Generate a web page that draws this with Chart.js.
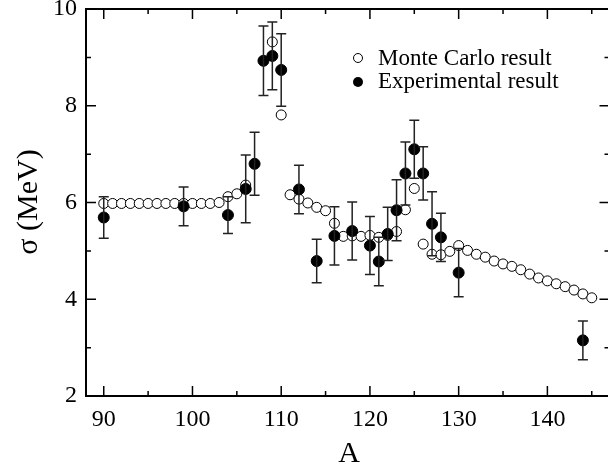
<!DOCTYPE html>
<html>
<head>
<meta charset="utf-8">
<script src="https://cdn.jsdelivr.net/npm/chart.js@4/dist/chart.umd.min.js"></script>
<style>
html,body{margin:0;padding:0;background:#fff;overflow:hidden;width:608px;height:467px;}
canvas{display:block;}
</style>
</head>
<body>
<canvas id="c" width="616" height="467"></canvas>
<script>
// Monte Carlo result (open circles)
const mcA = [90,91,92,93,94,95,96,97,98,99,100,101,102,103,104,105,106,109,110,111,112,113,114,115,116,117,118,119,120,121,122,123,124,125,126,127,128,129,130,131,132,133,134,135,136,137,138,139,140,141,142,143,144,145];
const mcSigma = [5.98,5.98,5.98,5.98,5.98,5.98,5.98,5.98,5.98,5.98,5.98,5.98,5.98,6.00,6.12,6.18,6.36,9.32,7.81,6.16,6.07,5.99,5.90,5.83,5.57,5.30,5.31,5.30,5.32,5.28,5.32,5.40,5.85,6.29,5.14,4.93,4.92,4.99,5.11,5.01,4.93,4.87,4.79,4.73,4.68,4.61,4.52,4.44,4.38,4.32,4.26,4.19,4.11,4.03];
// Experimental result (filled circles with error bars)
const expA = [90,99,104,106,107,108,109,110,112,114,116,118,120,121,122,123,124,125,126,127,128,130,144];
const expSigma = [5.69,5.92,5.74,6.28,6.80,8.93,9.03,8.74,6.27,4.79,5.31,5.41,5.11,4.78,5.35,5.84,6.60,7.10,6.60,5.56,5.28,4.55,3.15];
const expErr = [0.43,0.40,0.38,0.70,0.65,0.72,0.70,0.75,0.50,0.45,0.60,0.60,0.60,0.50,0.55,0.63,0.65,0.60,0.55,0.66,0.50,0.50,0.40];
// ticks
const xMajor = [90,100,110,120,130,140];
const xMinor = [95,105,115,125,135,145];
const yMajor = [2,4,6,8,10];
const yMinor = [3,5,7,9];
const xTitle = 'A';
const yTitle = 'σ (MeV)';
const legendLabels = ['Monte Carlo result','Experimental result'];

const SERIF = "'Liberation Serif','DejaVu Serif',serif";

const decor = {
  id: 'decor',
  afterDatasetsDraw(chart) {
    const ctx = chart.ctx, xs = chart.scales.x, ys = chart.scales.y;
    ctx.save();
    ctx.strokeStyle = '#222';
    ctx.lineWidth = 1.5;
    for (let i = 0; i < expA.length; i++) {
      const x = xs.getPixelForValue(expA[i]);
      const yt = ys.getPixelForValue(expSigma[i] + expErr[i]);
      const yb = ys.getPixelForValue(expSigma[i] - expErr[i]);
      ctx.beginPath();
      ctx.moveTo(x, yt); ctx.lineTo(x, yb);
      ctx.moveTo(x - 5, yt); ctx.lineTo(x + 5, yt);
      ctx.moveTo(x - 5, yb); ctx.lineTo(x + 5, yb);
      ctx.stroke();
    }
    ctx.restore();
  },
  afterDraw(chart) {
    const ctx = chart.ctx, xs = chart.scales.x, ys = chart.scales.y;
    const a = chart.chartArea;
    ctx.save();
    ctx.strokeStyle = '#000';
    ctx.lineWidth = 2;
    ctx.strokeRect(a.left, a.top, a.right - a.left, a.bottom - a.top);
    ctx.lineWidth = 1.5;
    ctx.beginPath();
    const tx = (v, len) => {
      const x = xs.getPixelForValue(v);
      ctx.moveTo(x, a.bottom); ctx.lineTo(x, a.bottom - len);
      ctx.moveTo(x, a.top); ctx.lineTo(x, a.top + len);
    };
    const ty = (v, len) => {
      const y = ys.getPixelForValue(v);
      ctx.moveTo(a.left, y); ctx.lineTo(a.left + len, y);
      ctx.moveTo(a.right, y); ctx.lineTo(a.right - len, y);
    };
    xMajor.forEach(v => tx(v, 10));
    xMinor.forEach(v => tx(v, 5));
    yMajor.forEach(v => ty(v, 10));
    yMinor.forEach(v => ty(v, 5));
    ctx.stroke();

    // axis titles
    ctx.fillStyle = '#000';
    ctx.textAlign = 'center';
    ctx.textBaseline = 'middle';
    ctx.font = '30px ' + SERIF;
    ctx.fillText(xTitle, 349, 454);
    ctx.save();
    ctx.translate(29, 202);
    ctx.rotate(-Math.PI / 2);
    ctx.fillText(yTitle, 0, 0);
    ctx.restore();

    // legend
    ctx.lineWidth = 1;
    ctx.beginPath();
    ctx.arc(358, 58, 4.5, 0, Math.PI * 2);
    ctx.fillStyle = '#fff'; ctx.fill();
    ctx.strokeStyle = '#000'; ctx.stroke();
    ctx.beginPath();
    ctx.arc(358, 82, 5, 0, Math.PI * 2);
    ctx.fillStyle = '#000'; ctx.fill();
    ctx.font = '23px ' + SERIF;
    ctx.textAlign = 'left';
    ctx.fillText(legendLabels[0], 378, 59);
    ctx.fillText(legendLabels[1], 378, 82);
    ctx.restore();
  }
};

new Chart(document.getElementById('c'), {
  type: 'scatter',
  data: {
    datasets: [
      {
        label: legendLabels[1],
        data: expA.map((a, i) => ({x: a, y: expSigma[i]})),
        pointRadius: 5.5,
        pointBackgroundColor: '#000',
        pointBorderColor: '#000',
        pointBorderWidth: 1,
        showLine: false
      },
      {
        label: legendLabels[0],
        data: mcA.map((a, i) => ({x: a, y: mcSigma[i]})),
        pointRadius: 5,
        pointBackgroundColor: '#fff',
        pointBorderColor: '#000',
        pointBorderWidth: 1,
        showLine: false
      }
    ]
  },
  options: {
    responsive: false,
    animation: false,
    layout: {padding: {top: 9, right: 4, left: 0, bottom: 0}},
    scales: {
      x: {
        type: 'linear', min: 88, max: 147,
        afterFit(s) { s.height = 71; s.paddingLeft = 0; s.paddingRight = 0; },
        afterBuildTicks(s) { s.ticks = xMajor.map(v => ({value: v})); },
        grid: {display: false, drawTicks: false},
        border: {display: false},
        ticks: {font: {family: SERIF, size: 24}, color: '#000', padding: 9, maxRotation: 0, autoSkip: false}
      },
      y: {
        type: 'linear', min: 2, max: 10,
        afterFit(s) { s.width = 86; s.paddingTop = 0; s.paddingBottom = 0; },
        afterBuildTicks(s) { s.ticks = yMajor.map(v => ({value: v})); },
        grid: {display: false, drawTicks: false},
        border: {display: false},
        ticks: {font: {family: SERIF, size: 24}, color: '#000', padding: 9, autoSkip: false}
      }
    },
    plugins: {legend: {display: false}, tooltip: {enabled: false}}
  },
  plugins: [decor]
});
</script>
</body>
</html>
